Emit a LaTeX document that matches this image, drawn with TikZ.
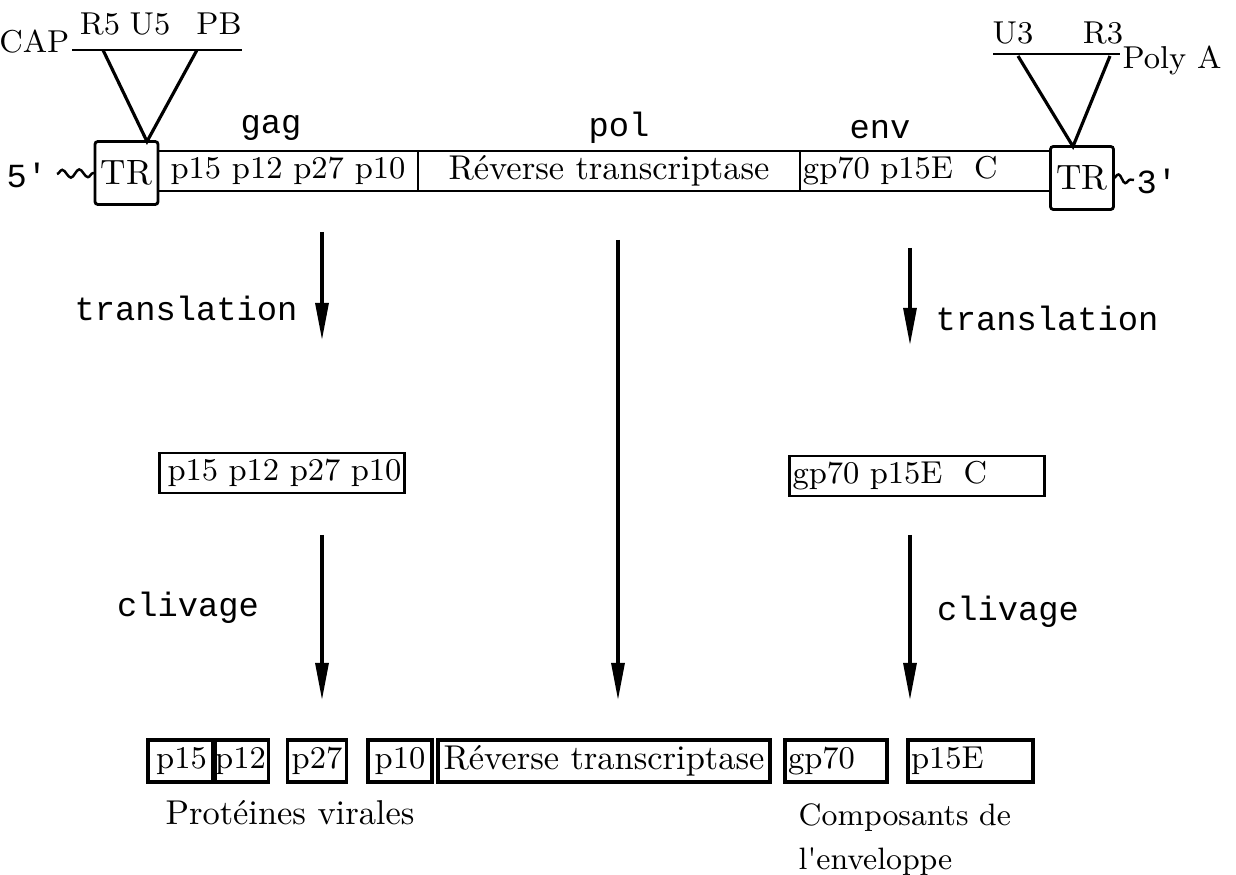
\documentclass[tikz,border=0pt]{standalone}
\usepackage{fontspec}
\newfontfamily\twfont{Liberation Mono}
\usetikzlibrary{positioning,arrows.meta,decorations.pathmorphing}

\begin{document}
\begin{tikzpicture}[x=0.1mm,y=-0.1mm,font=\fontsize{9}{11}\selectfont,
  box/.style={draw,line width=0.6pt,minimum height=4mm,inner xsep=0.3mm,inner ysep=0.5mm,outer sep=0pt},
  pbox/.style={box,line width=0.9pt,minimum height=4.2mm},
  trbox/.style={draw,line width=0.8pt,minimum width=6.3mm,minimum height=6.3mm,inner sep=0.5mm,outer sep=0pt,
    rounded corners=0.8pt,font=\fontsize{10}{12}\selectfont},
  lab/.style={font=\fontsize{9.6}{11}\selectfont\twfont},
  big/.style={font=\fontsize{9.8}{12}\selectfont},
  flow/.style={line width=0.9pt,-{Triangle[length=3.7mm,width=1.3mm]}},
  leg/.style={line width=0.9pt},
  wavy/.style={decorate,decoration={snake,amplitude=0.4mm,segment length=#1},line width=0.7pt}]
\useasboundingbox (0,0) rectangle (1236,875);

% genome
\node[trbox] (trL) at (126.5,173) {TR};
\node[box,minimum width=26mm,right=0pt of trL,yshift=0.2mm] (gag) {p15 p12 p27 p10};
\node[box,big,minimum width=38.2mm,right=0pt of gag] (pol) {R\'everse transcriptase};
\node[box,text width=24.4mm,align=left,right=0pt of pol] (env) {gp70 p15E\ \ C};
\node[trbox] (trR) at (1082,178) {TR};

\node[lab,anchor=west,inner sep=0pt] (five) at (6,175) {5\textquotesingle};
\coordinate (w5) at (57,174);
\draw[wavy=1.7mm] (w5) -- (trL.west);
\node[lab,anchor=west,inner sep=0pt] (three) at (1136,181) {3\textquotesingle};
\coordinate (w3) at (1134,180);
\draw[wavy=1.5mm] (trR.east) -- (w3);

\node[lab] (gagl) at (271,128) {gag};
\node[lab] (poll) at (619,128) {pol};
\node[lab] (envl) at (880,130) {env};

% LTR details
\node[anchor=east,inner sep=0pt] (cap) at (70,42) {CAP};
\node (r5) at (100,24) {R5};
\node (u5) at (150,24) {U5};
\node (pb) at (219,24) {PB};
\coordinate (ltopA) at (72,50);
\coordinate (ltopB) at (242,50);
\coordinate (lv1) at (103,50);
\coordinate (lv2) at (197,50);
\draw[line width=0.5pt] (ltopA) -- (ltopB);
\draw[leg] (lv1) -- ([xshift=-1.1mm]trL.north east) -- (lv2);

\node (u3) at (1013,33) {U3};
\node (r3) at (1103,33) {R3};
\node[anchor=west,inner sep=0pt] (polya) at (1122,60) {Poly A};
\coordinate (rtopA) at (993,54);
\coordinate (rtopB) at (1120,54);
\coordinate (rv1) at (1018,56);
\coordinate (rv2) at (1110,56);
\draw[line width=0.5pt] (rtopA) -- (rtopB);
\draw[leg] (rv1) -- ([xshift=-0.9mm]trR.north) -- (rv2);

% translation
\coordinate (t1a) at (322,232); \coordinate (t1b) at (322,340);
\coordinate (t2a) at (910,248); \coordinate (t2b) at (910,345);
\coordinate (pa) at (618,240);  \coordinate (pb2) at (618,700);
\draw[flow] (t1a) -- (t1b);
\draw[flow] (t2a) -- (t2b);
\draw[flow] (pa) -- (pb2);
\node[lab] (trl1) at (186,308) {translation};
\node[lab] (trl2) at (1047,318) {translation};

\node[box,line width=0.8pt,text width=23.9mm,align=right] (gagp) at (282,473) {p15 p12 p27 p10};
\node[box,line width=0.8pt,text width=24.9mm,align=left] (envp) at (917,476) {gp70 p15E\ \ C};

% clivage
\coordinate (c1a) at (322,535); \coordinate (c1b) at (322,700);
\coordinate (c2a) at (910,535); \coordinate (c2b) at (910,700);
\draw[flow] (c1a) -- (c1b);
\draw[flow] (c2a) -- (c2b);
\node[lab] (cl1) at (188,608) {clivage};
\node[lab] (cl2) at (1008,612) {clivage};

\node[pbox,minimum width=6.7mm] (p15) at (181.5,761) {p15};
\node[pbox,minimum width=4.9mm] (p12) at (240.5,761) {p12};
\node[pbox,minimum width=5.9mm] (p27) at (317,761) {p27};
\node[pbox,minimum width=6.4mm] (p10) at (400,761) {p10};
\node[pbox,big,minimum width=33.2mm] (rt) at (604,761) {R\'everse transcriptase};
\node[pbox,text width=9.6mm,align=left] (gp70) at (836,761) {gp70};
\node[pbox,text width=11.9mm,align=left] (p15e) at (970.5,761) {p15E};

\node[big] (prot) at (290,813) {Prot\'eines virales};
\node[anchor=north west,align=left,inner sep=0pt,font=\fontsize{8.8}{12.4}\selectfont] (comp) at (798,803) {Composants de\\l\textquotesingle enveloppe};
\end{tikzpicture}
\end{document}
